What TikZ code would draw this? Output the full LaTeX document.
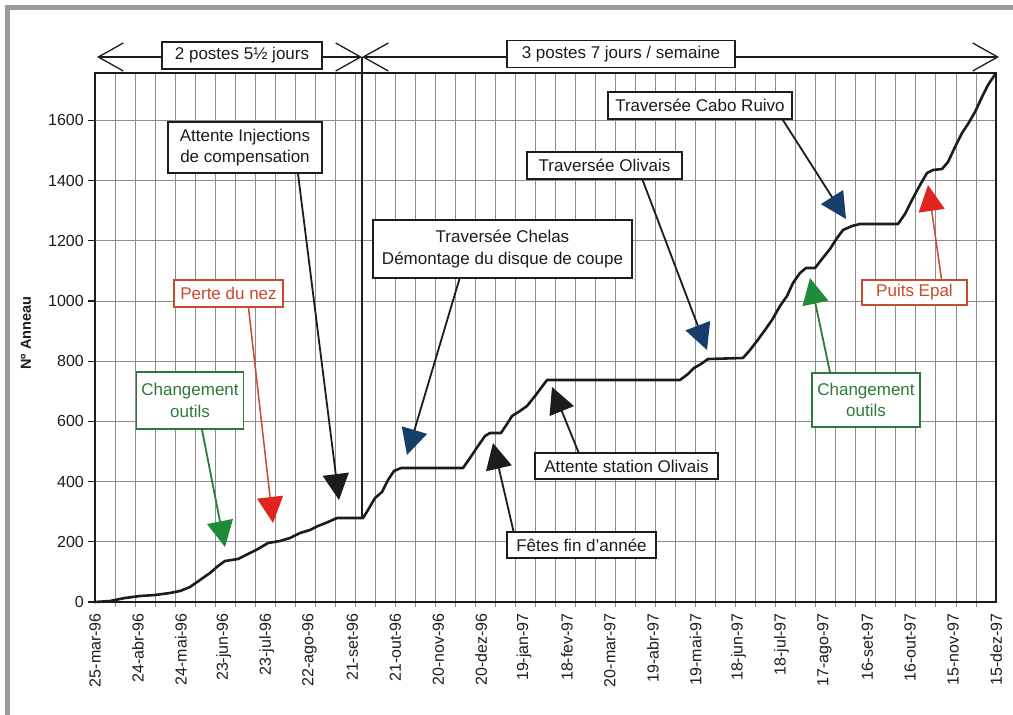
\documentclass[tikz,border=0pt]{standalone}
\usepackage{fontspec}
\setmainfont{Liberation Sans}
\usetikzlibrary{arrows.meta}
\definecolor{gframe}{HTML}{9C9C9C}
\definecolor{gridc}{HTML}{8C8C8C}
\definecolor{ink}{HTML}{1C1C1C}
\definecolor{grn}{HTML}{2B7A3B}
\definecolor{grnhead}{HTML}{1E8A3A}
\definecolor{redl}{HTML}{C8492B}
\definecolor{redhead}{HTML}{E2241F}
\definecolor{bluehead}{HTML}{173D6A}
\begin{document}
\begin{tikzpicture}[x=1pt,y=-1pt,
  box/.style={draw=ink,line width=1.5pt,fill=white,text=ink,align=center,inner sep=0pt,
     font=\fontsize{17}{21.5}\selectfont},
  gline/.style={gridc,line width=0.9pt},
  calK/.style={ink,line width=1.8pt,-{Triangle[length=26pt,width=26pt]}},
  calB/.style={ink,line width=1.8pt,-{Triangle[length=26pt,width=26pt,color=bluehead]}},
  calG/.style={grn,line width=1.8pt,-{Triangle[length=26pt,width=26pt,color=grnhead]}},
  calR/.style={redl,line width=1.5pt,-{Triangle[length=26pt,width=26pt,color=redhead]}},
  barb/.style={ink,line width=1.3pt,{Straight Barb[length=25pt,width=28pt]}-{Straight Barb[length=25pt,width=28pt]}},
  xlab/.style={rotate=90,anchor=east,inner sep=0pt,font=\fontsize{16}{18}\selectfont,text=ink},
  ylab/.style={anchor=east,inner sep=0pt,font=\fontsize{16}{18}\selectfont,text=ink}]

\useasboundingbox (0,0) rectangle (1013,715);
\fill[white] (0,0) rectangle (1013,715);
\fill[gframe] (5,5) rectangle (1013,10);
\fill[gframe] (5,5) rectangle (10,715);

% grid
\foreach \k in {1,...,44} \draw[gline] ({95+\k*20.022},74) -- ({95+\k*20.022},607);
\foreach \n in {1,...,8} \draw[gline] (95,{602-\n*60.2}) -- (996,{602-\n*60.2});

% y ticks and labels
\foreach \n [evaluate=\n as \lab using int(\n*200)] in {0,...,8} {
  \draw[ink,line width=1.2pt] (88,{602-\n*60.2}) -- (95,{602-\n*60.2});
  \node[ylab] at (84,{602-\n*60.2}) {\lab};
}
\node[rotate=90,font=\bfseries\fontsize{14.5}{17}\selectfont,text=ink] (ytitle) at (26,333) {Nº Anneau};

% x labels
\foreach \d/\t in {0/25-mar-96,30/24-abr-96,60/24-mai-96,90/23-jun-96,120/23-jul-96,150/22-ago-96,
  180/21-set-96,210/21-out-96,240/20-nov-96,270/20-dez-96,300/19-jan-97,330/18-fev-97,
  360/20-mar-97,390/19-abr-97,420/19-mai-97,450/18-jun-97,480/18-jul-97,510/17-ago-97,
  540/16-set-97,570/16-out-97,600/15-nov-97,630/15-dez-97}
  \node[xlab] at ({95+\d*1.4302},613) {\t};

% curve
\draw[ink,line width=2.6pt,line join=round,line cap=round]
 (95,602) -- (110,601) -- (125,598) -- (140,596) -- (155,595) -- (170,593) -- (180,591)
 -- (190,587) -- (200,580) -- (210,573) -- (218,566) -- (225,561) -- (238,559) -- (248,554)
 -- (258,549) -- (268,543) -- (280,541) -- (290,538) -- (300,533) -- (310,530) -- (318,526)
 -- (328,522) -- (337,518) -- (363,518) -- (368,510) -- (375,498) -- (382,492) -- (388,480)
 -- (394,471) -- (401,468) -- (463,468) -- (470,458) -- (478,446) -- (485,436) -- (490,433)
 -- (501,433) -- (507,424) -- (512,416) -- (520,411) -- (527,406) -- (535,396) -- (541,388)
 -- (547,380) -- (680,380) -- (688,374) -- (694,368) -- (701,364) -- (708,359) -- (743,358)
 -- (750,350) -- (757,341) -- (765,330) -- (772,320) -- (780,306) -- (787,296) -- (793,283)
 -- (800,273) -- (806,268) -- (815,268) -- (822,259) -- (830,249) -- (837,238) -- (843,230)
 -- (852,226) -- (860,224) -- (898,224) -- (905,214) -- (912,200) -- (920,185) -- (927,173)
 -- (933,170) -- (942,169) -- (948,162) -- (955,147) -- (962,133) -- (968,124) -- (975,112)
 -- (982,97) -- (988,85) -- (996,73);

% plot frame
\draw[ink,line width=2.8pt] (95,73) rectangle (996,602);

% shift divider
\coordinate (aL) at (97,57);
\coordinate (aM) at (362,57);
\coordinate (aR) at (999,57);
\coordinate (dv) at (362,518);
\draw[ink,line width=2pt] (aM) -- (dv);
\draw[barb] (aL) -- (aM);
\draw[barb] (aM) -- (aR);

\node[box,minimum width=160pt,minimum height=27pt] (p2) at (242,55.5) {2 postes 5½ jours};
\node[box,minimum width=228pt,minimum height=27pt] (p3) at (621,54) {3 postes 7 jours / semaine};

% callout boxes
\node[box,minimum width=154pt,minimum height=51pt] (inj) at (245,147.5) {Attente Injections\\de compensation};
\node[box,minimum width=259pt,minimum height=58pt] (chelas) at (502.5,249) {Traversée Chelas\\Démontage du disque de coupe};
\node[box,minimum width=155pt,minimum height=27pt] (oliv) at (604.5,165.5) {Traversée Olivais};
\node[box,minimum width=184pt,minimum height=27pt] (cabo) at (700,105.5) {Traversée Cabo Ruivo};
\node[box,draw=redl,text=redl,minimum width=109pt,minimum height=27pt] (nez) at (228.5,293.5) {Perte du nez};
\node[box,draw=grn,text=grn,minimum width=107pt,minimum height=57pt] (chgA) at (190,400.5) {Changement\\outils};
\node[box,minimum width=149pt,minimum height=26pt] (fetes) at (581.5,545) {Fêtes fin d'année};
\node[box,minimum width=183pt,minimum height=26pt] (stat) at (626.5,466) {Attente station Olivais};
\node[box,draw=grn,text=grn,minimum width=108pt,minimum height=54pt] (chgB) at (866,400) {Changement\\outils};
\node[box,draw=redl,text=redl,minimum width=105pt,minimum height=25pt] (epal) at (914.5,292.5) {Puits Epal};

% arrow tips
\coordinate (tG1) at (225,547);
\coordinate (tR1) at (273,523);
\coordinate (tK1) at (339,500);
\coordinate (tB1) at (407,455);
\coordinate (tB2) at (707,350);
\coordinate (tB3) at (846,219);
\coordinate (tK2) at (552,387);
\coordinate (tK3) at (493,443);
\coordinate (tG2) at (810,278);
\coordinate (tR2) at (928,185);

\draw[calG] ([xshift=12pt]chgA.south) -- (tG1);
\draw[calR] ([xshift=20pt]nez.south) -- (tR1);
\draw[calK] ([xshift=53pt]inj.south) -- (tK1);
\draw[calB] ([xshift=-43pt]chelas.south) -- (tB1);
\draw[calB] ([xshift=38pt]oliv.south) -- (tB2);
\draw[calB] ([xshift=-10pt]cabo.south east) -- (tB3);
\draw[calK] ([xshift=-48pt]stat.north) -- (tK2);
\draw[calK] ([xshift=-68pt]fetes.north) -- (tK3);
\draw[calG] ([xshift=-36pt]chgB.north) -- (tG2);
\draw[calR] ([xshift=27pt]epal.north) -- (tR2);
\end{tikzpicture}
\end{document}
